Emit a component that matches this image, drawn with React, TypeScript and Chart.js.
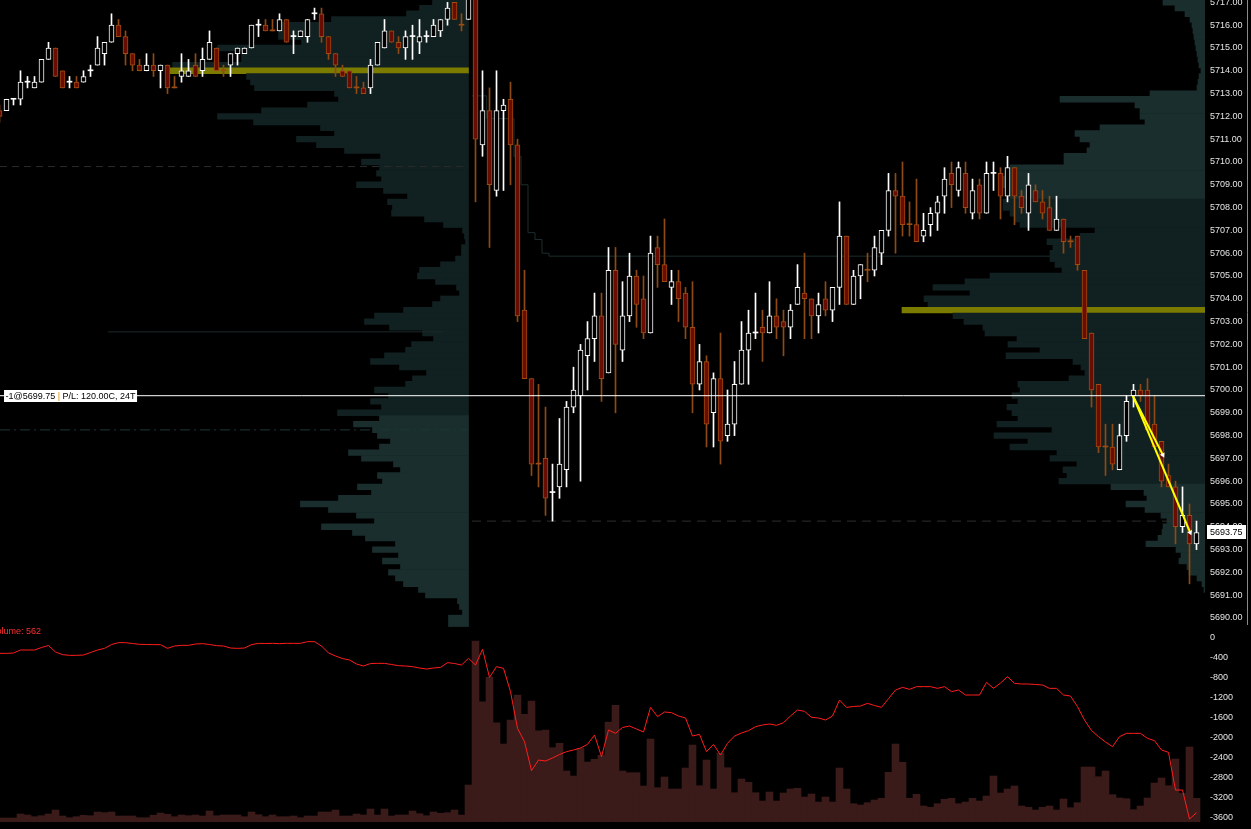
import React, { useEffect, useRef } from "react";
import { Chart, registerables } from "chart.js";

Chart.register(...registerables);

const FONT_FAMILY = "'Liberation Sans', Arial, sans-serif";

// ---------------- 1-minute bars (first visible bar index = -1) ----------------
const FIRST_BAR = -1;
const opens = [
  5712.25, 5712.25, 5712.75, 5712.75, 5713.5, 5713.25, 5713.5, 5714.5, 5715.0, 5714.0,
  5713.5, 5713.5, 5713.5, 5714.0, 5714.25, 5714.75, 5715.25, 5716.0, 5715.5, 5714.75,
  5714.25, 5714.0, 5714.25, 5714.0, 5714.25, 5713.25, 5713.75, 5713.75, 5714.25, 5714.0,
  5714.5, 5715.0, 5714.0, 5714.25, 5714.75, 5714.75, 5715.0, 5716.0, 5716.0, 5715.75,
  5715.75, 5716.25, 5715.5, 5715.5, 5715.5, 5716.5, 5716.5, 5715.5, 5714.75, 5714.0,
  5714.0, 5713.25, 5713.25, 5713.25, 5714.25, 5715.0, 5715.75, 5715.25, 5715.0, 5715.5,
  5715.25, 5715.5, 5715.5, 5715.75, 5716.25, 5717.0, 5716.0, 5716.25, 5717.5, 5710.75,
  5712.25, 5708.75, 5712.25, 5712.75, 5710.75, 5703.5, 5700.5, 5696.75, 5697.0, 5695.5,
  5695.75, 5696.5, 5699.25, 5699.75, 5701.5, 5702.25, 5703.25, 5700.75, 5705.25, 5701.75,
  5703.25, 5705.0, 5704.0, 5702.5, 5706.25, 5705.5, 5704.5, 5704.75, 5704.25, 5702.75,
  5700.25, 5701.25, 5699.0, 5700.5, 5698.0, 5698.5, 5700.25, 5701.75, 5702.5, 5702.75,
  5702.5, 5703.25, 5703.0, 5702.75, 5703.75, 5704.25, 5704.0, 5703.25, 5704.0, 5703.5,
  5704.5, 5706.75, 5703.75, 5705.0, 5705.25, 5705.25, 5706.0, 5707.0, 5708.75, 5708.5,
  5707.25, 5707.25, 5706.75, 5707.25, 5707.75, 5708.5, 5709.5, 5708.75, 5709.5, 5707.75,
  5709.0, 5707.75, 5709.5, 5709.5, 5708.5, 5709.75, 5708.5, 5707.75, 5708.75, 5708.25,
  5708.0, 5707.0, 5707.5, 5706.5, 5706.75, 5705.25, 5702.5, 5700.25, 5697.5, 5697.5,
  5696.5, 5698.0, 5699.75, 5700.0, 5700.0, 5698.5, 5697.75, 5696.25, 5695.75, 5694.0,
  5694.5, 5693.25,
];
const highs = [
  5712.5, 5712.75, 5712.75, 5714.0, 5713.75, 5713.75, 5714.5, 5715.25, 5715.0, 5714.0,
  5713.75, 5713.75, 5714.0, 5714.25, 5715.5, 5715.25, 5716.5, 5716.25, 5715.75, 5714.75,
  5714.5, 5714.75, 5714.75, 5714.25, 5714.25, 5713.75, 5714.75, 5714.5, 5714.75, 5715.0,
  5715.75, 5715.0, 5714.25, 5714.75, 5715.0, 5715.0, 5716.0, 5716.25, 5716.25, 5716.25,
  5716.5, 5716.25, 5715.75, 5715.75, 5716.25, 5716.75, 5716.75, 5715.5, 5714.75, 5714.25,
  5714.0, 5713.75, 5713.5, 5714.5, 5715.25, 5716.25, 5715.75, 5715.5, 5715.75, 5716.0,
  5716.25, 5715.75, 5716.25, 5716.25, 5717.0, 5717.0, 5716.5, 5717.5, 5717.75, 5714.0,
  5713.25, 5714.0, 5712.75, 5713.5, 5711.0, 5705.25, 5700.5, 5700.25, 5699.25, 5696.75,
  5698.75, 5699.5, 5701.0, 5702.0, 5703.0, 5704.25, 5704.25, 5706.25, 5706.25, 5704.75,
  5706.0, 5705.25, 5705.0, 5706.75, 5706.75, 5707.5, 5705.25, 5705.25, 5704.5, 5704.75,
  5702.0, 5701.5, 5700.75, 5702.5, 5700.0, 5701.25, 5703.0, 5703.5, 5704.25, 5703.5,
  5704.75, 5704.0, 5703.5, 5703.75, 5705.5, 5706.0, 5704.0, 5704.25, 5704.75, 5704.5,
  5708.25, 5706.75, 5705.25, 5705.5, 5706.0, 5706.75, 5707.0, 5709.5, 5709.5, 5710.0,
  5708.25, 5709.25, 5707.75, 5708.0, 5708.5, 5709.75, 5710.0, 5710.0, 5710.0, 5709.25,
  5709.25, 5710.0, 5710.0, 5709.75, 5710.25, 5709.75, 5708.75, 5709.5, 5709.0, 5708.75,
  5708.5, 5708.5, 5707.5, 5706.75, 5706.75, 5705.25, 5702.5, 5700.25, 5698.5, 5698.5,
  5698.5, 5699.75, 5700.25, 5700.25, 5700.5, 5699.75, 5697.75, 5696.75, 5696.0, 5695.75,
  5695.0, 5694.25,
];
const lows = [
  5711.75, 5712.25, 5712.5, 5712.5, 5713.25, 5713.25, 5713.5, 5714.5, 5713.75, 5713.25,
  5713.25, 5713.25, 5713.5, 5713.75, 5714.25, 5714.25, 5715.25, 5715.5, 5714.25, 5714.0,
  5714.0, 5714.0, 5713.75, 5713.25, 5713.0, 5713.25, 5713.5, 5713.75, 5713.75, 5713.75,
  5714.5, 5714.0, 5713.75, 5713.75, 5714.25, 5714.75, 5715.0, 5715.5, 5715.75, 5715.75,
  5715.75, 5715.25, 5714.75, 5715.5, 5715.25, 5716.25, 5715.25, 5714.5, 5713.75, 5713.75,
  5713.25, 5713.0, 5713.0, 5713.0, 5714.25, 5715.0, 5715.25, 5714.75, 5714.5, 5714.5,
  5714.75, 5715.25, 5715.5, 5715.5, 5716.0, 5716.25, 5715.75, 5716.25, 5708.25, 5710.25,
  5706.25, 5708.5, 5708.75, 5709.0, 5703.0, 5700.5, 5696.25, 5695.75, 5694.5, 5694.25,
  5695.25, 5695.75, 5699.0, 5696.0, 5700.0, 5701.25, 5699.5, 5700.75, 5699.0, 5701.25,
  5703.0, 5702.75, 5702.25, 5702.5, 5704.5, 5704.75, 5703.75, 5703.0, 5702.25, 5699.0,
  5700.0, 5697.5, 5697.5, 5696.75, 5697.75, 5698.0, 5700.25, 5700.25, 5702.25, 5701.25,
  5702.5, 5702.25, 5701.5, 5702.25, 5703.75, 5702.25, 5702.25, 5702.5, 5703.25, 5703.0,
  5703.75, 5703.75, 5703.75, 5704.0, 5704.75, 5705.0, 5705.5, 5706.75, 5706.0, 5706.75,
  5706.75, 5706.5, 5706.5, 5706.75, 5707.0, 5707.75, 5708.0, 5708.5, 5707.75, 5707.5,
  5707.5, 5707.75, 5708.75, 5707.5, 5708.25, 5707.25, 5707.75, 5707.0, 5708.25, 5707.5,
  5707.0, 5707.0, 5706.0, 5706.25, 5705.25, 5702.25, 5699.25, 5697.25, 5696.25, 5696.5,
  5696.5, 5697.75, 5699.25, 5699.5, 5698.25, 5697.5, 5695.75, 5695.75, 5693.25, 5693.75,
  5691.5, 5693.0,
];
const closes = [
  5712.0, 5712.75, 5712.75, 5713.5, 5713.5, 5713.5, 5714.5, 5715.0, 5713.75, 5713.25,
  5713.5, 5713.25, 5713.75, 5714.0, 5715.0, 5715.25, 5716.0, 5715.5, 5714.75, 5714.25,
  5714.0, 5714.25, 5714.0, 5714.25, 5713.25, 5713.25, 5714.0, 5714.0, 5713.75, 5714.5,
  5715.25, 5714.0, 5714.0, 5714.75, 5715.0, 5715.0, 5716.0, 5716.0, 5715.75, 5715.75,
  5716.25, 5715.25, 5715.5, 5715.75, 5716.25, 5716.5, 5715.5, 5714.75, 5714.25, 5713.75,
  5713.25, 5713.25, 5713.0, 5714.25, 5715.25, 5715.75, 5715.25, 5715.0, 5715.5, 5715.5,
  5715.5, 5715.5, 5716.0, 5716.25, 5716.75, 5716.25, 5716.0, 5717.25, 5711.0, 5712.25,
  5709.0, 5712.25, 5712.5, 5710.75, 5703.25, 5700.5, 5696.75, 5696.75, 5695.25, 5695.5,
  5696.75, 5699.25, 5700.0, 5701.75, 5702.25, 5703.25, 5700.5, 5705.25, 5702.0, 5703.25,
  5705.0, 5703.75, 5702.5, 5706.0, 5705.5, 5704.75, 5704.75, 5704.0, 5702.75, 5700.25,
  5701.25, 5698.5, 5700.5, 5697.75, 5698.5, 5700.25, 5701.75, 5702.5, 5702.5, 5702.5,
  5703.25, 5702.75, 5702.75, 5703.5, 5704.5, 5704.0, 5703.25, 5703.75, 5703.5, 5704.5,
  5706.75, 5703.75, 5705.0, 5705.5, 5705.25, 5706.25, 5707.0, 5708.75, 5708.5, 5707.25,
  5707.25, 5706.5, 5707.0, 5707.75, 5708.25, 5709.25, 5709.0, 5709.75, 5708.0, 5708.75,
  5707.75, 5709.5, 5709.5, 5708.5, 5709.75, 5708.5, 5708.0, 5709.0, 5708.25, 5707.75,
  5707.0, 5707.5, 5706.5, 5706.5, 5705.5, 5702.25, 5700.0, 5697.5, 5697.5, 5696.75,
  5698.0, 5699.5, 5700.0, 5699.75, 5698.25, 5697.5, 5696.0, 5695.75, 5694.0, 5694.5,
  5693.25, 5693.75,
];
// dojis (open == close) painted with the up colour
const upDojiBars = [1, 3, 9, 12, 36, 41, 44, 58, 60, 78, 107, 141];

// ---------------- lower panel ----------------
const volumes = [
  89, 89, 89, 185, 161, 120, 144, 185, 281, 137,
  96, 120, 154, 144, 233, 216, 233, 137, 137, 137,
  96, 96, 154, 209, 178, 120, 161, 144, 161, 137,
  257, 144, 161, 161, 161, 120, 233, 168, 120, 161,
  120, 120, 137, 96, 137, 137, 233, 233, 281, 137,
  137, 185, 161, 305, 161, 305, 137, 161, 161, 257,
  192, 144, 233, 202, 216, 281, 161, 881, 4337, 2880,
  3466, 2376, 1865, 2441, 3041, 2578, 2897, 2184, 2201, 1776,
  1882, 1217, 1097, 1762, 1433, 1498, 1594, 2393, 2794, 1217,
  1176, 1176, 857, 1985, 816, 1073, 785, 785, 1289, 1841,
  864, 1481, 785, 1642, 1296, 696, 1025, 946, 696, 497,
  713, 497, 689, 785, 802, 593, 665, 473, 593, 473,
  1289, 785, 432, 401, 456, 521, 562, 1186, 1865, 1426,
  562, 658, 377, 346, 432, 538, 562, 432, 473, 562,
  497, 617, 1097, 689, 785, 857, 377, 346, 281, 346,
  377, 281, 545, 336, 456, 1313, 1313, 1080, 1217, 648,
  569, 552, 288, 377, 569, 929, 1049, 864, 1505, 682,
  1793, 562,
];
const cumDelta = [
  -307, -307, -300, -240, -240, -240, -190, -150, -280, -333,
  -347, -347, -340, -290, -240, -207, -130, -93, -93, -110,
  -127, -130, -133, -133, -207, -160, -147, -147, -120, -113,
  -130, -153, -160, -200, -207, -200, -133, -107, -110, -107,
  -113, -107, -107, -107, -73, -73, -160, -300, -360, -410,
  -440, -520, -560, -510, -507, -507, -530, -553, -560, -573,
  -600, -620, -600, -587, -493, -510, -540, -407, -540, -227,
  -787, -573, -607, -1073, -1807, -2073, -2653, -2440, -2460, -2400,
  -2330, -2273, -2240, -2200, -2127, -1940, -2373, -1840, -1907, -1790,
  -1760, -1820, -1880, -1387, -1573, -1480, -1493, -1560, -1600, -1960,
  -1927, -2273, -2127, -2340, -2107, -1960, -1900, -1853, -1773, -1740,
  -1720, -1747, -1693, -1560, -1440, -1467, -1587, -1600, -1640, -1560,
  -1240, -1387, -1370, -1360, -1307, -1350, -1387, -1213, -1040, -987,
  -1027, -973, -973, -973, -1007, -973, -1073, -1040, -1140, -1140,
  -1140, -887, -1007, -900, -773, -907, -920, -920, -930, -940,
  -1007, -1007, -1140, -1160, -1373, -1640, -1850, -1973, -2080, -2173,
  -1973, -1907, -1907, -1907, -2007, -2053, -2240, -2287, -3040, -3040,
  -3620, -3493,
];

// ---------------- axes ticks ----------------
const priceTicks = [
  5717, 5716, 5715, 5714, 5713, 5712, 5711, 5710, 5709, 5708, 5707, 5706, 5705, 5704,
  5703, 5702, 5701, 5700, 5699, 5698, 5697, 5696, 5695, 5694, 5693, 5692, 5691, 5690,
];
const deltaTicks = [0, -400, -800, -1200, -1600, -2000, -2400, -2800, -3200, -3600];

// ---------------- volume profiles (relative volume per 0.25 price row, top row first) ----------------
const PROFILE_ROW = 0.25;
const profileLeftTop = 5717.0;
const profileLeftVol = [
  36, 49, 62, 137, 190, 190, 190, 167, 251, 227,
  227, 296, 300, 222, 218, 214, 134, 130, 161, 207,
  251, 215, 148, 134, 172, 152, 124, 88, 107, 89,
  92, 87, 112, 85, 61, 81, 76, 77, 44, 25,
  6, 4, 3, 7, 7, 13, 28, 49, 51, 33,
  12, 9, 28, 36, 65, 94, 104, 79, 46, 35,
  57, 63, 84, 98, 69, 42, 56, 63, 94, 80,
  98, 87, 131, 89, 115, 96, 91, 78, 89, 120,
  107, 75, 68, 91, 86, 111, 97, 130, 168, 140,
  112, 94, 147, 116, 103, 73, 96, 70, 86, 68,
  80, 73, 65, 50, 43, 11, 9, 6, 20, 20,
];
const profileLeftPoc = 5714.0;
const profileLeftVA = [5699.0, 5720.0];

const profileRightTop = 5717.0;
const profileRightVol = [
  42, 30, 20, 15, 13, 12, 11, 10, 9, 8,
  7, 6, 4, 6, 7, 8, 55, 145, 70, 65,
  65, 60, 105, 130, 125, 115, 118, 141, 141, 195,
  200, 205, 205, 200, 195, 202, 202, 195, 190, 185,
  110, 125, 158, 152, 155, 155, 150, 143, 215, 240,
  272, 235, 281, 277, 303, 252, 241, 222, 220, 188,
  197, 165, 199, 132, 124, 120, 136, 187, 185, 193,
  187, 198, 193, 187, 208, 153, 211, 177, 195, 148,
  155, 128, 142, 138, 146, 94, 61, 58, 79, 60,
  44, 38, 42, 43, 47, 59, 29, 24, 26, 18,
  16, 8, 3, 1,
];
const profileRightPoc = 5703.5;
const profileRightVA = [5696.0, 5708.25];

// ---------------- reference levels ----------------
const levelPrices = [5709.8, 5698.25, 5694.25, 5702.55];
const levelFromBar = [-0.93, -0.93, 66.5, 14.5];
const levelToBar = [66, 66, 171.22, 62.4];
const levelColors = ["#2a2a2a", "#1c3636", "#2e2e2e", "#1e2828"];
const levelDashes = [[7, 5], [10, 4, 2, 4], [9, 6], []];

const devPocBars = [66.5, 68.6, 72.5, 73.5, 74.5, 75.5, 76.5, 77.5, 149.1];
const devPocPrices = [5712.9, 5711.9, 5710.25, 5709.0, 5706.9, 5706.6, 5706.0, 5705.87, 5705.87];

// ---------------- position / trade ----------------
const positionPrice = 5699.75;
const positionTextParts = ["-1@5699.75 ", "|", " P/L: 120.00C, 24T"];
const lastPrice = 5693.75;
const volumeLabel = "Volume: 562";
const tradeBars = [[160.9, 169.1], [160.9, 165.2]];
const tradePrices = [[5699.75, 5693.75], [5699.75, 5697.15]];
const tradeArrowRotation = [157, 153];

// ---------------- layout / scale constants ----------------
const CANVAS_W = 1251;
const CANVAS_H = 829;
const AXIS_W = 46;
const PX_PER_BAR = 7;
const X_MIN = -0.9286;
const X_MAX = 171.2143;
const PX_PER_POINT = 22.8;
const PRICE_MAX = 5717.105;
const PRICE_PANE = 625;
const DELTA_PANE = 204;
const PRICE_MIN = PRICE_MAX - PRICE_PANE / PX_PER_POINT;
const DELTA_MAX = 260;
const DELTA_MIN = -3820;
const VOL_PER_PX = 24;
const VOL_MIN = -175;
const VOL_MAX = VOL_MIN + CANVAS_H * VOL_PER_PX;
const LEFT_PROFILE_ANCHOR = 66;

const COLORS = {
  upLine: "#ffffff",
  upFill: "#000000",
  downFill: "#6a0c00",
  downBorder: "#9e4c12",
  downWick: "#8e4a14",
  vol: "#3b1a1a",
  delta: "#ff1c1c",
  vaDark: "#112020",
  outLight: "#1a2e2e",
  poc: "#7b7b00",
  axisText: "#e4e4e4",
};

const overlayPlugin = {
  id: "overlay",
  afterDraw(chart: any) {
    const { ctx, chartArea, scales } = chart;
    const ys = scales.y;
    ctx.save();
    ctx.font = `9px ${FONT_FAMILY}`;
    ctx.textBaseline = "middle";
    ctx.textAlign = "left";
    // position label
    const py = ys.getPixelForValue(positionPrice);
    const widths = positionTextParts.map((t) => ctx.measureText(t).width);
    const total = widths.reduce((a, b) => a + b, 0) + 3;
    ctx.fillStyle = "#ffffff";
    ctx.fillRect(4, Math.round(py) - 6, total, 12);
    let tx = 5.5;
    const partColors = ["#000000", "#e08a00", "#000000"];
    positionTextParts.forEach((t, k) => {
      ctx.fillStyle = partColors[k];
      ctx.fillText(t, tx, Math.round(py) + 0.5);
      tx += widths[k];
    });
    // last price marker
    const ly = ys.getPixelForValue(lastPrice);
    ctx.fillStyle = "#ffffff";
    ctx.fillRect(chartArea.right + 2, Math.round(ly) - 7, 39, 14);
    ctx.fillStyle = "#000000";
    ctx.fillText(lastPrice.toFixed(2), chartArea.right + 5, Math.round(ly) + 0.5);
    // volume caption
    ctx.fillStyle = "#ff3030";
    ctx.textAlign = "right";
    ctx.fillText(volumeLabel, 41, scales.yd.top + 7);
    // thin axis frame line
    ctx.strokeStyle = "#8a8a8a";
    ctx.lineWidth = 1;
    ctx.beginPath();
    ctx.moveTo(CANVAS_W - 3.5, 0);
    ctx.lineTo(CANVAS_W - 3.5, ys.bottom);
    ctx.stroke();
    ctx.restore();
  },
};

const fitAxis = (s: any) => {
  s.width = AXIS_W;
  s.paddingTop = 0;
  s.paddingBottom = 0;
  s.paddingLeft = 0;
  s.paddingRight = 0;
};

export default function App() {
  const ref = useRef<HTMLCanvasElement | null>(null);

  useEffect(() => {
    if (!ref.current) return;
    const bars = opens.map((_, k) => k + FIRST_BAR);
    const isUp = bars.map(
      (b, k) => closes[k] > opens[k] || (closes[k] === opens[k] && upDojiBars.includes(b))
    );
    const isDoji = bars.map((_, k) => closes[k] === opens[k]);

    const profColor = (p: number, poc: number, va: number[]) =>
      p === poc ? COLORS.poc : p >= va[0] && p <= va[1] ? COLORS.vaDark : COLORS.outLight;

    const leftRows = profileLeftVol.map((v, k) => ({ x: v, y: profileLeftTop - k * PROFILE_ROW }));
    const rightRows = profileRightVol.map((v, k) => ({ x: v, y: profileRightTop - k * PROFILE_ROW }));

    const levelSets = levelPrices.map((p, k) => ({
      type: "line",
      xAxisID: "x",
      yAxisID: "y",
      data: [
        { x: levelFromBar[k], y: p },
        { x: levelToBar[k], y: p },
      ],
      borderColor: levelColors[k],
      borderWidth: 1,
      borderDash: levelDashes[k],
      pointRadius: 0,
      order: 15,
    }));

    const tradeSets = tradeBars.map((bx, k) => ({
      type: "line",
      xAxisID: "x",
      yAxisID: "y",
      data: bx.map((b, j) => ({ x: b, y: tradePrices[k][j] })),
      borderColor: "#ffff00",
      borderWidth: 2,
      pointRadius: [0, 3],
      pointStyle: "triangle",
      pointRotation: [0, tradeArrowRotation[k]],
      pointBackgroundColor: "#ffffff",
      pointBorderColor: "#ffffff",
      pointBorderWidth: 0,
      order: 1,
    }));

    const datasets: any[] = [
      {
        type: "bar",
        indexAxis: "y",
        xAxisID: "xpl",
        yAxisID: "yprof",
        data: leftRows,
        backgroundColor: leftRows.map((r) => profColor(r.y, profileLeftPoc, profileLeftVA)),
        barThickness: PROFILE_ROW * PX_PER_POINT,
        grouped: false,
        borderWidth: 0,
        order: 20,
      },
      {
        type: "bar",
        indexAxis: "y",
        xAxisID: "xpr",
        yAxisID: "yprof",
        data: rightRows,
        backgroundColor: rightRows.map((r) => profColor(r.y, profileRightPoc, profileRightVA)),
        barThickness: PROFILE_ROW * PX_PER_POINT,
        grouped: false,
        borderWidth: 0,
        order: 20,
      },
      ...levelSets,
      {
        type: "line",
        xAxisID: "x",
        yAxisID: "y",
        data: devPocBars.map((b, k) => ({ x: b, y: devPocPrices[k] })),
        borderColor: "#1c2c2c",
        borderWidth: 1,
        stepped: true,
        pointRadius: 0,
        order: 15,
      },
      {
        type: "bar",
        xAxisID: "x",
        yAxisID: "yvol",
        data: bars.map((b, k) => ({ x: b, y: volumes[k] })),
        backgroundColor: COLORS.vol,
        barThickness: PX_PER_BAR,
        grouped: false,
        borderWidth: 0,
        order: 12,
      },
      {
        type: "line",
        xAxisID: "x",
        yAxisID: "yd",
        data: bars.map((b, k) => ({ x: b, y: cumDelta[k] })),
        borderColor: COLORS.delta,
        borderWidth: 1,
        pointRadius: 0,
        tension: 0,
        order: 3,
      },
      {
        type: "bar",
        xAxisID: "x",
        yAxisID: "y",
        data: bars.map((b, k) => ({ x: b, y: [lows[k], highs[k]] })),
        backgroundColor: isUp.map((u) => (u ? COLORS.upLine : COLORS.downWick)),
        barThickness: 1,
        grouped: false,
        borderWidth: 0,
        order: 6,
      },
      {
        type: "bar",
        xAxisID: "x",
        yAxisID: "y",
        data: bars.map((b, k) => ({
          x: b,
          y: [Math.min(opens[k], closes[k]), Math.max(opens[k], closes[k])],
        })),
        backgroundColor: isUp.map((u, k) =>
          isDoji[k] ? (u ? COLORS.upLine : COLORS.downBorder) : u ? COLORS.upFill : COLORS.downFill
        ),
        borderColor: isUp.map((u) => (u ? COLORS.upLine : COLORS.downBorder)),
        borderWidth: isDoji.map((d) => (d ? 0 : 1)),
        borderSkipped: false,
        barThickness: 5,
        minBarLength: 1,
        grouped: false,
        order: 5,
      },
      {
        type: "line",
        xAxisID: "x",
        yAxisID: "y",
        data: [
          { x: X_MIN, y: positionPrice },
          { x: X_MAX, y: positionPrice },
        ],
        borderColor: "#ffffff",
        borderWidth: 1,
        pointRadius: 0,
        order: 0,
      },
      ...tradeSets,
    ];

    const tickFont = { family: FONT_FAMILY, size: 9 };
    const noGrid = { display: false, drawTicks: false, tickLength: 0 };

    const chart = new Chart(ref.current, {
      type: "bar",
      data: { datasets },
      plugins: [overlayPlugin],
      options: {
        animation: false,
        responsive: false,
        events: [],
        layout: { padding: 0, autoPadding: false },
        plugins: { legend: { display: false }, tooltip: { enabled: false } },
        scales: {
          x: { type: "linear", display: false, offset: false, min: X_MIN, max: X_MAX, bounds: "data" },
          y: {
            type: "linear",
            position: "right",
            stack: "pane",
            stackWeight: PRICE_PANE,
            offset: false,
            min: PRICE_MIN,
            max: PRICE_MAX,
            bounds: "data",
            grid: noGrid,
            border: { display: false },
            ticks: {
              color: COLORS.axisText,
              font: tickFont,
              padding: 5,
              autoSkip: false,
              callback: (v: any) => Number(v).toFixed(2),
            },
            afterBuildTicks: (s: any) => {
              s.ticks = priceTicks.map((v) => ({ value: v }));
            },
            afterFit: fitAxis,
          },
          yd: {
            type: "linear",
            position: "right",
            stack: "pane",
            stackWeight: DELTA_PANE,
            offset: false,
            min: DELTA_MIN,
            max: DELTA_MAX,
            bounds: "data",
            grid: noGrid,
            border: { display: false },
            ticks: {
              color: COLORS.axisText,
              font: tickFont,
              padding: 5,
              autoSkip: false,
              callback: (v: any) => String(v),
            },
            afterBuildTicks: (s: any) => {
              s.ticks = deltaTicks.map((v) => ({ value: v }));
            },
            afterFit: fitAxis,
          },
          yvol: {
            type: "linear",
            display: false,
            position: "right",
            offset: false,
            min: VOL_MIN,
            max: VOL_MAX,
            bounds: "data",
          },
          yprof: {
            type: "linear",
            display: false,
            position: "right",
            offset: false,
            grid: { offset: false },
            min: PRICE_MAX - CANVAS_H / PX_PER_POINT,
            max: PRICE_MAX,
            bounds: "data",
          },
          xpl: {
            type: "linear",
            display: false,
            offset: false,
            reverse: true,
            min: -(X_MAX - LEFT_PROFILE_ANCHOR) * PX_PER_BAR,
            max: (LEFT_PROFILE_ANCHOR - X_MIN) * PX_PER_BAR,
            bounds: "data",
          },
          xpr: {
            type: "linear",
            display: false,
            offset: false,
            reverse: true,
            min: 0,
            max: (X_MAX - X_MIN) * PX_PER_BAR,
            bounds: "data",
          },
        },
      } as any,
    } as any);
    return () => chart.destroy();
  }, []);

  return (
    <div
      style={{
        position: "fixed",
        left: 0,
        top: 0,
        width: CANVAS_W,
        height: CANVAS_H,
        background: "#000",
        overflow: "hidden",
      }}
    >
      <canvas ref={ref} width={CANVAS_W} height={CANVAS_H} style={{ display: "block" }} />
    </div>
  );
}
